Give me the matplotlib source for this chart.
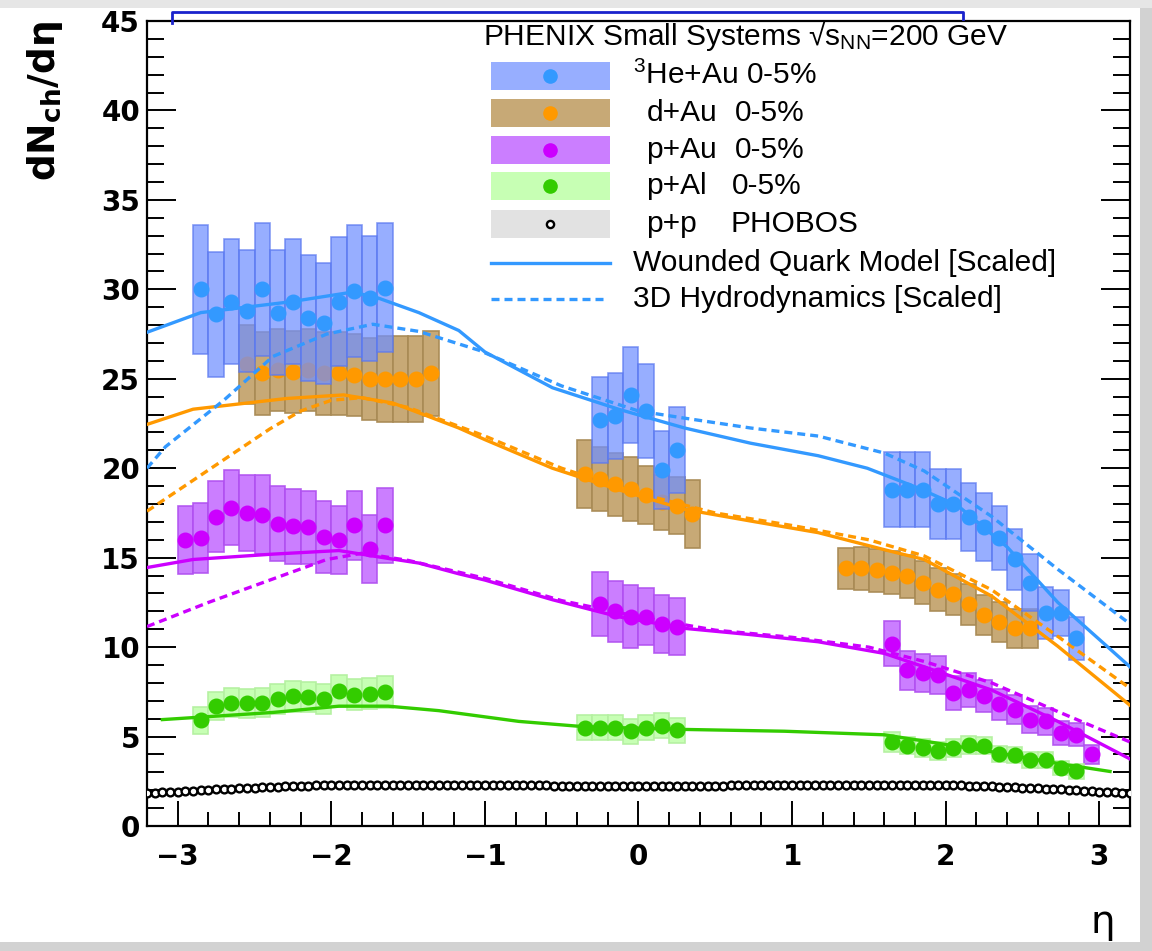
import numpy as np
import matplotlib
matplotlib.use("Agg")
import matplotlib.pyplot as plt
from matplotlib.patches import Rectangle
from matplotlib.lines import Line2D

plt.rcParams['font.family'] = ['Liberation Sans', 'DejaVu Sans']
plt.rcParams['mathtext.fontset'] = 'custom'
plt.rcParams['mathtext.rm'] = 'Liberation Sans'
plt.rcParams['mathtext.it'] = 'Liberation Sans:italic'
plt.rcParams['mathtext.bf'] = 'Liberation Sans:bold'

# ---------------- data ----------------
# 3He+Au 0-5%
he_eta = [-2.85, -2.75, -2.65, -2.55, -2.45, -2.35, -2.25, -2.15, -2.05, -1.95, -1.85, -1.75, -1.65,
          -0.25, -0.15, -0.05, 0.05, 0.15, 0.25,
          1.65, 1.75, 1.85, 1.95, 2.05, 2.15, 2.25, 2.35, 2.45, 2.55, 2.65, 2.75, 2.85]
he_val = [30.0, 28.6, 29.3, 28.8, 30.0, 28.7, 29.3, 28.4, 28.1, 29.3, 29.9, 29.5, 30.1,
          22.7, 22.9, 24.1, 23.2, 19.9, 21.0,
          18.8, 18.8, 18.8, 18.0, 18.0, 17.3, 16.7, 16.1, 14.9, 13.6, 11.9, 11.9, 10.5]
he_err = [3.6, 3.5, 3.5, 3.4, 3.7, 3.5, 3.5, 3.5, 3.4, 3.6, 3.7, 3.5, 3.6,
          2.4, 2.4, 2.7, 2.6, 2.2, 2.4,
          2.1, 2.1, 2.1, 1.95, 1.95, 1.9, 1.9, 1.8, 1.7, 1.6, 1.45, 1.3, 1.2]

# d+Au 0-5%
dau_eta = [-2.55, -2.45, -2.35, -2.25, -2.15, -2.05, -1.95, -1.85, -1.75, -1.65, -1.55, -1.45, -1.35,
           -0.35, -0.25, -0.15, -0.05, 0.05, 0.15, 0.25, 0.35,
           1.35, 1.45, 1.55, 1.65, 1.75, 1.85, 1.95, 2.05, 2.15, 2.25, 2.35, 2.45, 2.55]
dau_val = [25.8, 25.3, 25.5, 25.4, 25.5, 25.3, 25.3, 25.2, 25.0, 25.0, 25.0, 25.0, 25.3,
           19.7, 19.4, 19.1, 18.85, 18.5, 18.1, 17.9, 17.45,
           14.4, 14.4, 14.3, 14.15, 13.95, 13.6, 13.2, 12.95, 12.4, 11.8, 11.4, 11.05, 11.05]
dau_err = [2.2, 2.3, 2.3, 2.3, 2.3, 2.3, 2.3, 2.3, 2.3, 2.4, 2.4, 2.4, 2.4,
           1.9, 1.8, 1.75, 1.8, 1.6, 1.55, 1.6, 1.9,
           1.15, 1.2, 1.2, 1.2, 1.2, 1.2, 1.2, 1.15, 1.15, 1.1, 1.1, 1.1, 1.1]

# p+Au 0-5%
pau_eta = [-2.95, -2.85, -2.75, -2.65, -2.55, -2.45, -2.35, -2.25, -2.15, -2.05, -1.95, -1.85, -1.75, -1.65,
           -0.25, -0.15, -0.05, 0.05, 0.15, 0.25,
           1.65, 1.75, 1.85, 1.95, 2.05, 2.15, 2.25, 2.35, 2.45, 2.55, 2.65, 2.75, 2.85, 2.95]
pau_val = [16.0, 16.1, 17.3, 17.8, 17.5, 17.4, 16.9, 16.75, 16.7, 16.15, 16.0, 16.8, 15.5, 16.8,
           12.4, 12.0, 11.7, 11.7, 11.3, 11.15,
           10.2, 8.7, 8.55, 8.45, 7.45, 7.6, 7.25, 6.8, 6.5, 5.95, 5.85, 5.2, 5.1, 4.0]
pau_err = [1.9, 1.95, 2.0, 2.1, 2.15, 2.2, 2.1, 2.1, 2.05, 2.0, 1.9, 1.95, 1.9, 2.1,
           1.8, 1.7, 1.75, 1.6, 1.6, 1.6,
           1.25, 1.1, 1.05, 1.05, 0.95, 0.95, 0.9, 0.85, 0.8, 0.75, 0.75, 0.65, 0.65, 0.55]

# p+Al 0-5%
pal_eta = [-2.85, -2.75, -2.65, -2.55, -2.45, -2.35, -2.25, -2.15, -2.05, -1.95, -1.85, -1.75, -1.65,
           -0.35, -0.25, -0.15, -0.05, 0.05, 0.15, 0.25,
           1.65, 1.75, 1.85, 1.95, 2.05, 2.15, 2.25, 2.35, 2.45, 2.55, 2.65, 2.75, 2.85]
pal_val = [5.9, 6.7, 6.9, 6.85, 6.9, 7.1, 7.25, 7.2, 7.1, 7.55, 7.35, 7.4, 7.5,
           5.5, 5.5, 5.5, 5.3, 5.5, 5.6, 5.35,
           4.7, 4.5, 4.35, 4.2, 4.35, 4.55, 4.5, 4.05, 3.95, 3.7, 3.7, 3.25, 3.05]
pal_err = [0.75, 0.8, 0.8, 0.8, 0.8, 0.85, 0.85, 0.85, 0.85, 0.9, 0.85, 0.85, 0.9,
           0.7, 0.7, 0.7, 0.7, 0.7, 0.7, 0.7,
           0.55, 0.5, 0.5, 0.5, 0.5, 0.5, 0.5, 0.45, 0.45, 0.45, 0.45, 0.4, 0.4]

# p+p PHOBOS (eta from -3.2 to 3.2 in steps of 0.05)
pp_val = [1.82, 1.85, 1.88, 1.90, 1.93, 1.96, 1.98, 2.01, 2.03, 2.05, 2.07, 2.09, 2.11, 2.13, 2.15, 2.17,
          2.19, 2.21, 2.22, 2.24, 2.25, 2.26, 2.27, 2.28, 2.29, 2.30, 2.30, 2.31, 2.31, 2.32, 2.32, 2.32,
          2.32, 2.32, 2.32, 2.32, 2.32, 2.32, 2.31, 2.31, 2.31, 2.30, 2.30, 2.30, 2.29, 2.29, 2.29, 2.28,
          2.28, 2.28, 2.27, 2.27, 2.27, 2.26, 2.26, 2.26, 2.26, 2.25, 2.25, 2.25, 2.25, 2.25, 2.25, 2.25,
          2.25,
          2.25, 2.25, 2.25, 2.25, 2.25, 2.25, 2.25, 2.26, 2.26, 2.26, 2.26, 2.27, 2.27, 2.27, 2.28, 2.28,
          2.28, 2.29, 2.29, 2.29, 2.30, 2.30, 2.30, 2.31, 2.31, 2.31, 2.32, 2.32, 2.32, 2.32, 2.32, 2.32,
          2.32, 2.32, 2.32, 2.31, 2.31, 2.30, 2.30, 2.29, 2.28, 2.27, 2.26, 2.25, 2.24, 2.22, 2.21, 2.19,
          2.17, 2.15, 2.13, 2.11, 2.09, 2.07, 2.05, 2.03, 2.01, 1.98, 1.96, 1.93, 1.90, 1.88, 1.85, 1.82]
pp_sys = 0.2

# Wounded Quark Model [Scaled]
he_wqm_eta = [-3.2, -2.85, -2.27, -1.86, -1.69, -1.43, -1.17, -1.0, -0.56, -0.13, 0.3, 0.73, 1.17, 1.49, 1.82, 2.08, 2.4, 2.73, 3.2]
he_wqm_val = [27.6, 28.7, 29.3, 29.85, 29.5, 28.7, 27.7, 26.5, 24.5, 23.3, 22.25, 21.4, 20.7, 20.0, 18.9, 17.9, 15.6, 12.5, 8.9]
dau_wqm_eta = [-3.2, -2.9, -2.29, -1.92, -1.6, -1.43, -1.17, -1.0, -0.56, -0.13, 0.3, 0.73, 1.17, 1.6, 1.86, 2.3, 2.73, 3.2]
dau_wqm_val = [22.45, 23.3, 23.9, 24.1, 23.65, 23.1, 22.25, 21.6, 20.0, 18.8, 17.7, 17.05, 16.4, 15.45, 14.9, 12.85, 10.05, 6.75]
pau_wqm_eta = [-3.2, -2.9, -2.38, -1.95, -1.66, -1.43, -1.17, -1.0, -0.56, -0.13, 0.3, 0.73, 1.17, 1.6, 1.86, 2.3, 2.73, 3.2]
pau_wqm_val = [14.45, 14.9, 15.2, 15.4, 15.0, 14.7, 14.1, 13.75, 12.65, 11.7, 11.05, 10.7, 10.3, 9.65, 8.9, 7.6, 5.85, 3.75]
pal_wqm_eta = [-3.1, -2.38, -1.95, -1.63, -1.43, -1.3, -0.78, -0.35, 0.3, 0.95, 1.6, 1.86, 2.3, 2.73, 3.07]
pal_wqm_val = [5.95, 6.35, 6.7, 6.7, 6.55, 6.45, 5.85, 5.55, 5.4, 5.3, 5.1, 4.75, 4.15, 3.5, 3.05]

# 3D Hydrodynamics [Scaled]
he_hyd_eta = [-3.2, -3.08, -2.7, -2.38, -2.03, -1.73, -1.43, -1.04, -0.5, 0.0, 0.3, 0.73, 1.17, 1.6, 1.86, 2.3, 2.73, 3.2]
he_hyd_val = [20.0, 21.2, 23.8, 26.25, 27.5, 28.05, 27.65, 26.6, 24.6, 23.2, 22.8, 22.25, 21.8, 20.85, 19.85, 17.3, 14.35, 11.3]
dau_hyd_eta = [-3.2, -2.8, -2.4, -2.2, -2.0, -1.8, -1.5, -1.0, -0.5, 0.0, 0.5, 1.0, 1.5, 1.86, 2.3, 2.73, 3.2]
dau_hyd_val = [17.6, 19.9, 22.2, 23.2, 23.8, 23.95, 23.4, 21.8, 20.0, 18.6, 17.5, 16.8, 16.0, 15.1, 13.2, 10.6, 7.7]
pau_hyd_eta = [-3.2, -2.8, -2.4, -2.03, -1.8, -1.5, -1.0, -0.5, 0.0, 0.5, 1.0, 1.5, 1.86, 2.3, 2.73, 3.2]
pau_hyd_val = [11.15, 12.5, 13.75, 14.9, 15.25, 14.85, 13.85, 12.6, 11.7, 10.95, 10.55, 10.0, 9.2, 8.0, 6.4, 4.7]

legend_title = r"PHENIX Small Systems √$\mathregular{s_{NN}}$=200 GeV"
x_ticks = [-3, -2, -1, 0, 1, 2, 3]
y_ticks = [0, 5, 10, 15, 20, 25, 30, 35, 40, 45]

# ---------------- styles ----------------
C_HE, C_DAU, C_PAU, C_PAL = '#3399ff', '#ff9900', '#cc00ff', '#33cc00'
BOX = {
    'he': dict(color='#6f8fff', edgecolor='#5a78f0', alpha=0.72),
    'dau': dict(color='#c4a56f', edgecolor='#a88a55', alpha=0.95),
    'pau': dict(color='#c670ff', edgecolor='#b050f0', alpha=0.9),
    'pal': dict(color='#c4ffb0', edgecolor='#b4f0a0', alpha=0.95),
    'pp': dict(color='#e2e2e2', edgecolor='none', alpha=1.0),
}
MS = 10.5

fig = plt.figure(figsize=(11.52, 9.51), dpi=100)
ax = fig.add_axes([0.1276, 0.1314, 0.8533, 0.8465])


def boxes(eta, val, err, style, z, width=0.1):
    eta = np.asarray(eta); val = np.asarray(val); err = np.asarray(err)
    ax.bar(eta, 2 * err, bottom=val - err, width=width, color=style['color'],
           edgecolor=style['edgecolor'], alpha=style['alpha'], linewidth=1.2, zorder=z)


# p+p PHOBOS
pp_eta = np.round(np.linspace(-3.2, 3.2, len(pp_val)), 3)
pp_arr = np.asarray(pp_val)
boxes(pp_eta, pp_arr, np.full(len(pp_arr), pp_sys), BOX['pp'], 1, width=0.05)

# d+Au first (under He+Au boxes)
boxes(dau_eta, dau_val, dau_err, BOX['dau'], 2)
ax.plot(dau_eta, dau_val, 'o', ms=MS, color=C_DAU, mec=C_DAU, zorder=3)
# other boxes
boxes(he_eta, he_val, he_err, BOX['he'], 4)
boxes(pau_eta, pau_val, pau_err, BOX['pau'], 4)
boxes(pal_eta, pal_val, pal_err, BOX['pal'], 4)

# model curves
LW = 2.4
DASH = (0, (2.4, 1.5))
ax.plot(he_wqm_eta, he_wqm_val, '-', lw=LW, color=C_HE, zorder=5)
ax.plot(dau_wqm_eta, dau_wqm_val, '-', lw=LW, color=C_DAU, zorder=5)
ax.plot(pau_wqm_eta, pau_wqm_val, '-', lw=LW, color=C_PAU, zorder=5)
ax.plot(pal_wqm_eta, pal_wqm_val, '-', lw=LW, color=C_PAL, zorder=5)
ax.plot(he_hyd_eta, he_hyd_val, ls=DASH, lw=LW, color=C_HE, zorder=5)
ax.plot(dau_hyd_eta, dau_hyd_val, ls=DASH, lw=LW, color=C_DAU, zorder=5)
ax.plot(pau_hyd_eta, pau_hyd_val, ls=DASH, lw=LW, color=C_PAU, zorder=5)

# points
ax.plot(he_eta, he_val, 'o', ms=MS, color=C_HE, mec=C_HE, zorder=6)
ax.plot(pau_eta, pau_val, 'o', ms=MS, color=C_PAU, mec=C_PAU, zorder=6)
ax.plot(pal_eta, pal_val, 'o', ms=MS, color=C_PAL, mec=C_PAL, zorder=6)
ax.plot(pp_eta, pp_arr, 'o', ms=5.6, mfc='white', mec='black', mew=1.7, zorder=6)

# axes styling
ax.set_xlim(-3.2, 3.2)
ax.set_ylim(0, 45)
for s in ax.spines.values():
    s.set_linewidth(1.6)
ax.set_xticks(x_ticks)
ax.set_xticks(np.arange(-3.2, 3.21, 0.2), minor=True)
ax.set_yticks(y_ticks)
ax.set_yticks(np.arange(0, 46, 1), minor=True)
ax.tick_params(axis='both', which='both', direction='in', top=False, right=True, width=1.4)
ax.tick_params(axis='y', which='major', length=21, pad=5)
ax.tick_params(axis='y', which='minor', length=12)
ax.tick_params(axis='x', which='major', length=18, pad=12)
ax.tick_params(axis='x', which='minor', length=10)
ax.set_xticklabels([f"{v}".replace('-', '\u2212') for v in x_ticks],
                   fontsize=20, fontweight='bold', family='DejaVu Sans')
ax.set_yticklabels([str(v) for v in y_ticks], fontsize=20, fontweight='bold', family='DejaVu Sans')

ax.set_ylabel(r"dN$_\mathregular{ch}$/dη", fontsize=27,
              fontweight='bold', family=['DejaVu Sans'], loc='top')
ax.yaxis.set_label_coords(-0.083, 1.0)
ax.set_xlabel('η', fontsize=28, family=['DejaVu Sans'], loc='right')
ax.xaxis.set_label_coords(0.985, -0.095)

# ---------------- legend (drawn manually, ROOT style) ----------------
T = ax.transAxes
FS = 21.5
ax.text(0.342, 0.981, legend_title, transform=T, fontsize=FS, va='center', ha='left', zorder=10)
rows_y = [0.932, 0.886, 0.840, 0.795, 0.748]
sw_x0, sw_x1 = 0.350, 0.471
sw_h = 0.035
entries = [
    ('he', C_HE, [(0.494, r"$\mathregular{^3}$He+Au 0-5%")]),
    ('dau', C_DAU, [(0.508, "d+Au"), (0.598, "0-5%")]),
    ('pau', C_PAU, [(0.508, "p+Au"), (0.598, "0-5%")]),
    ('pal', C_PAL, [(0.508, "p+Al"), (0.595, "0-5%")]),
    ('pp', None, [(0.508, "p+p"), (0.594, "PHOBOS")]),
]
for (key, col, texts), y in zip(entries, rows_y):
    st = BOX[key]
    ax.add_patch(Rectangle((sw_x0, y - sw_h / 2), sw_x1 - sw_x0, sw_h, transform=T,
                           facecolor=st['color'], alpha=st['alpha'], edgecolor='none', zorder=10))
    if col is not None:
        ax.plot([0.41], [y], 'o', ms=9.5, color=col, transform=T, zorder=11, clip_on=False)
    else:
        ax.plot([0.41], [y], 'o', ms=5.2, mfc='white', mec='black', mew=1.7, transform=T,
                zorder=11, clip_on=False)
    for tx, s in texts:
        ax.text(tx, y, s, transform=T, fontsize=FS, va='center', ha='left', zorder=10)

ax.add_line(Line2D([sw_x0, sw_x1], [0.699, 0.699], transform=T, color=C_HE, lw=LW, zorder=10))
ax.add_line(Line2D([sw_x0, sw_x1 - 0.003], [0.655, 0.655], transform=T, color=C_HE, lw=LW,
                   ls=DASH, zorder=10))
ax.text(0.494, 0.699, "Wounded Quark Model [Scaled]", transform=T, fontsize=FS, va='center', ha='left')
ax.text(0.494, 0.655, "3D Hydrodynamics [Scaled]", transform=T, fontsize=FS, va='center', ha='left')

# screenshot frame artifacts
fig.patches.append(Rectangle((0.9896, 0), 0.0104, 1, transform=fig.transFigure,
                             facecolor='#d2d2d2', edgecolor='none', zorder=-1))
fig.patches.append(Rectangle((0, 0), 1, 0.0095, transform=fig.transFigure,
                             facecolor='#d2d2d2', edgecolor='none', zorder=-1))
fig.patches.append(Rectangle((0, 0.992), 1, 0.008, transform=fig.transFigure,
                             facecolor='#e6e6e6', edgecolor='none', zorder=-1))
fig.lines.append(Line2D([0.149, 0.149, 0.836, 0.836], [0.976, 0.987, 0.987, 0.980],
                        transform=fig.transFigure, color='#1a22cc', lw=2.0))

fig.savefig('out.png', dpi=100)
